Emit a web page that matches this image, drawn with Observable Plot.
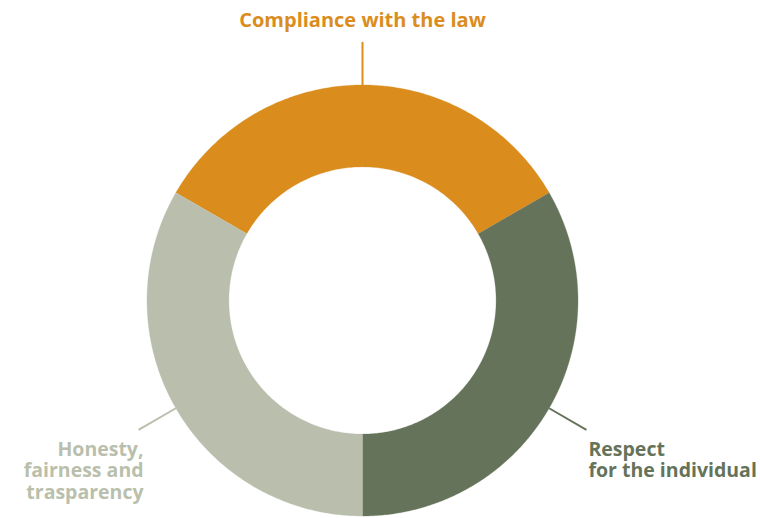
<!DOCTYPE html>
<html>
<head>
<meta charset="utf-8">
<script src="https://cdn.jsdelivr.net/npm/d3@7"></script>
<script src="https://cdn.jsdelivr.net/npm/@observablehq/plot@0.6"></script>
<style>
  html, body { margin: 0; padding: 0; background: #fff; }
</style>
</head>
<body>
<div id="chart"></div>
<script>
const categories = ["Compliance with the law", "Respect\nfor the individual", "Honesty,\nfairness and\ntrasparency"];
const values = [1, 1, 1];
const colors = ["#DA8D1D", "#65735A", "#B9BFAC"];

const INNER = 0.62, OUTER = 1, LEAD = 1.2;

const pie = d3.pie().sort(null).value(d => d.value)
  .startAngle(-Math.PI / 3).endAngle(2 * Math.PI - Math.PI / 3);
const arcs = pie(categories.map((name, i) => ({name, value: values[i], color: colors[i]})));

const pt = (a, r) => [r * Math.sin(a), r * Math.cos(a)];

const ring = [];
for (const s of arcs) {
  const n = Math.max(2, Math.ceil((s.endAngle - s.startAngle) / (Math.PI / 360)));
  for (let k = 0; k <= n; k++) {
    const a = s.startAngle + (s.endAngle - s.startAngle) * k / n;
    const [x, y] = pt(a, OUTER);
    ring.push({name: s.data.name, x, y});
  }
  for (let k = n; k >= 0; k--) {
    const a = s.startAngle + (s.endAngle - s.startAngle) * k / n;
    const [x, y] = pt(a, INNER);
    ring.push({name: s.data.name, x, y});
  }
}

const leaders = arcs.map(s => {
  const m = (s.startAngle + s.endAngle) / 2;
  const [x1, y1] = pt(m, OUTER);
  const [x2, y2] = pt(m, LEAD);
  return {name: s.data.name, color: s.data.color, x1, y1, x2, y2};
});

const font = "Open Sans, sans-serif";
const textBase = {fontFamily: font, fontWeight: 700, fontSize: 20, lineHeight: 1.08};
const sideText = {fontFamily: font, fontWeight: 700, fontSize: 19.5, lineHeight: 1.1};

const chart = Plot.plot({
  width: 760,
  height: 518,
  margin: 0,
  x: {domain: [-1.6798, 1.8469], axis: null},
  y: {domain: [-1.0116, 1.392], axis: null},
  color: {domain: categories, range: colors},
  marks: [
    Plot.line(ring, {x: "x", y: "y", z: "name", fill: "name", stroke: "name", strokeWidth: 0.3, curve: "linear"}),
    Plot.link(leaders, {x1: "x1", y1: "y1", x2: "x2", y2: "y2", stroke: "name", strokeWidth: 2}),
    Plot.text([leaders[0]], {x: "x2", y: "y2", text: "name", fill: "name", textAnchor: "middle", lineAnchor: "bottom", dy: -15, ...textBase}),
    Plot.text([leaders[1]], {x: "x2", y: "y2", text: "name", fill: "name", textAnchor: "start", lineAnchor: "top", dx: 2, dy: 11, ...sideText}),
    Plot.text([leaders[2]], {x: "x2", y: "y2", text: "name", fill: "name", textAnchor: "end", lineAnchor: "top", dx: 5, dy: 11, ...sideText})
  ]
});
document.getElementById("chart").appendChild(chart);
</script>
</body>
</html>
